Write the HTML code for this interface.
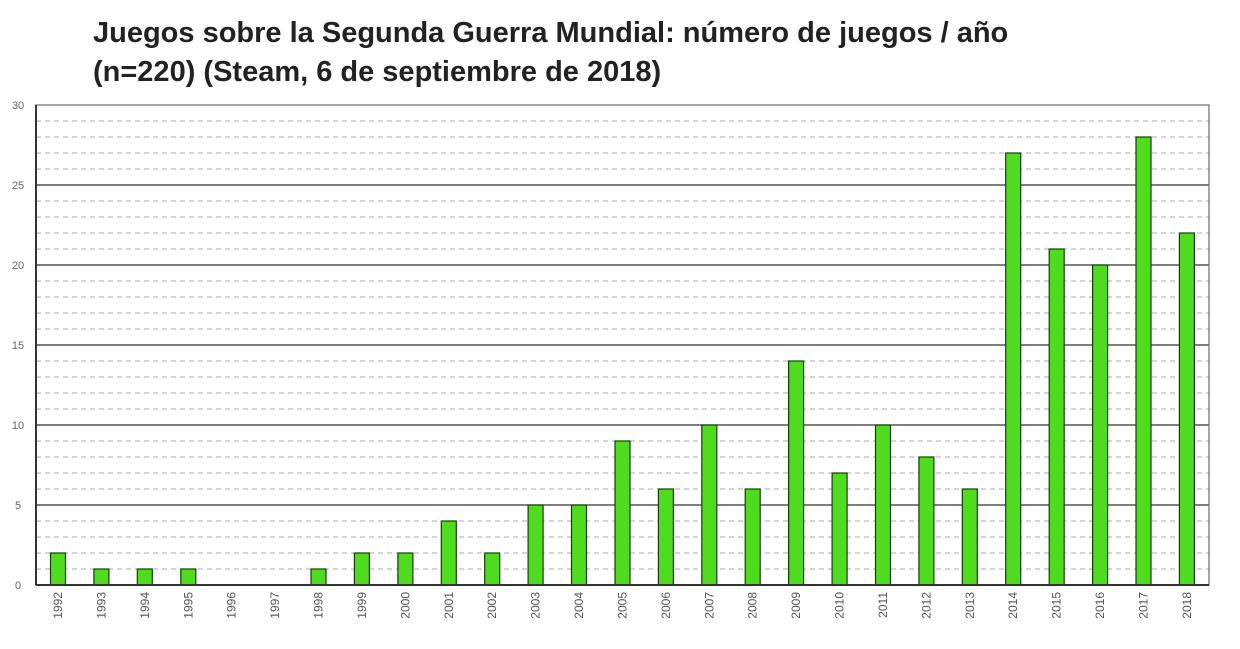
<!DOCTYPE html><html><head><meta charset="utf-8"><style>body{margin:0;background:#fff}</style></head><body>
<svg width="1240" height="644" xmlns="http://www.w3.org/2000/svg" font-family="Liberation Sans, sans-serif">
<text x="93" y="42" font-size="29" font-weight="bold" fill="#222">Juegos sobre la Segunda Guerra Mundial: número de juegos / año</text>
<text x="93" y="81" font-size="29" font-weight="bold" fill="#222">(n=220) (Steam, 6 de septiembre de 2018)</text>
<g stroke="#aaa" stroke-dasharray="5,4">
<line x1="36" x2="1209" y1="569" y2="569"/><line x1="36" x2="1209" y1="553" y2="553"/><line x1="36" x2="1209" y1="537" y2="537"/><line x1="36" x2="1209" y1="521" y2="521"/>
<line x1="36" x2="1209" y1="489" y2="489"/><line x1="36" x2="1209" y1="473" y2="473"/><line x1="36" x2="1209" y1="457" y2="457"/><line x1="36" x2="1209" y1="441" y2="441"/>
<line x1="36" x2="1209" y1="409" y2="409"/><line x1="36" x2="1209" y1="393" y2="393"/><line x1="36" x2="1209" y1="377" y2="377"/><line x1="36" x2="1209" y1="361" y2="361"/>
<line x1="36" x2="1209" y1="329" y2="329"/><line x1="36" x2="1209" y1="313" y2="313"/><line x1="36" x2="1209" y1="297" y2="297"/><line x1="36" x2="1209" y1="281" y2="281"/>
<line x1="36" x2="1209" y1="249" y2="249"/><line x1="36" x2="1209" y1="233" y2="233"/><line x1="36" x2="1209" y1="217" y2="217"/><line x1="36" x2="1209" y1="201" y2="201"/>
<line x1="36" x2="1209" y1="169" y2="169"/><line x1="36" x2="1209" y1="153" y2="153"/><line x1="36" x2="1209" y1="137" y2="137"/><line x1="36" x2="1209" y1="121" y2="121"/>
</g>
<g stroke="#333" stroke-width="1.3">
<line x1="36" x2="1209" y1="505" y2="505"/><line x1="36" x2="1209" y1="425" y2="425"/><line x1="36" x2="1209" y1="345" y2="345"/><line x1="36" x2="1209" y1="265" y2="265"/><line x1="36" x2="1209" y1="185" y2="185"/>
</g>
<g font-size="11" fill="#666" text-anchor="middle">
<text x="18" y="589">0</text><text x="18" y="509">5</text><text x="18" y="429">10</text><text x="18" y="349">15</text><text x="18" y="269">20</text><text x="18" y="189">25</text><text x="18" y="109">30</text>
</g>
<g fill="#4fdb1e" stroke="#1a3a10" stroke-width="1.2">
<rect x="50.5" y="553" width="15" height="32"/>
<rect x="93.9" y="569" width="15" height="16"/>
<rect x="137.3" y="569" width="15" height="16"/>
<rect x="180.8" y="569" width="15" height="16"/>
<rect x="311" y="569" width="15" height="16"/>
<rect x="354.4" y="553" width="15" height="32"/>
<rect x="397.9" y="553" width="15" height="32"/>
<rect x="441.3" y="521" width="15" height="64"/>
<rect x="484.7" y="553" width="15" height="32"/>
<rect x="528.1" y="505" width="15" height="80"/>
<rect x="571.5" y="505" width="15" height="80"/>
<rect x="615" y="441" width="15" height="144"/>
<rect x="658.4" y="489" width="15" height="96"/>
<rect x="701.8" y="425" width="15" height="160"/>
<rect x="745.2" y="489" width="15" height="96"/>
<rect x="788.6" y="361" width="15" height="224"/>
<rect x="832.1" y="473" width="15" height="112"/>
<rect x="875.5" y="425" width="15" height="160"/>
<rect x="918.9" y="457" width="15" height="128"/>
<rect x="962.3" y="489" width="15" height="96"/>
<rect x="1005.7" y="153" width="15" height="432"/>
<rect x="1049.2" y="249" width="15" height="336"/>
<rect x="1092.6" y="265" width="15" height="320"/>
<rect x="1136" y="137" width="15" height="448"/>
<rect x="1179.4" y="233" width="15" height="352"/>
</g>
<g font-size="12" fill="#555" text-anchor="end">
<text transform="translate(62,592) rotate(-90)">1992</text>
<text transform="translate(105.4,592) rotate(-90)">1993</text>
<text transform="translate(148.8,592) rotate(-90)">1994</text>
<text transform="translate(192.3,592) rotate(-90)">1995</text>
<text transform="translate(235.7,592) rotate(-90)">1996</text>
<text transform="translate(279.1,592) rotate(-90)">1997</text>
<text transform="translate(322.5,592) rotate(-90)">1998</text>
<text transform="translate(365.9,592) rotate(-90)">1999</text>
<text transform="translate(409.4,592) rotate(-90)">2000</text>
<text transform="translate(452.8,592) rotate(-90)">2001</text>
<text transform="translate(496.2,592) rotate(-90)">2002</text>
<text transform="translate(539.6,592) rotate(-90)">2003</text>
<text transform="translate(583,592) rotate(-90)">2004</text>
<text transform="translate(626.5,592) rotate(-90)">2005</text>
<text transform="translate(669.9,592) rotate(-90)">2006</text>
<text transform="translate(713.3,592) rotate(-90)">2007</text>
<text transform="translate(756.7,592) rotate(-90)">2008</text>
<text transform="translate(800.1,592) rotate(-90)">2009</text>
<text transform="translate(843.6,592) rotate(-90)">2010</text>
<text transform="translate(887,592) rotate(-90)">2011</text>
<text transform="translate(930.4,592) rotate(-90)">2012</text>
<text transform="translate(973.8,592) rotate(-90)">2013</text>
<text transform="translate(1017.2,592) rotate(-90)">2014</text>
<text transform="translate(1060.7,592) rotate(-90)">2015</text>
<text transform="translate(1104.1,592) rotate(-90)">2016</text>
<text transform="translate(1147.5,592) rotate(-90)">2017</text>
<text transform="translate(1190.9,592) rotate(-90)">2018</text>
</g>
<rect x="36" y="105" width="1173" height="480" fill="none" stroke="#777" stroke-width="1.3"/>
<line x1="36" x2="1209" y1="585" y2="585" stroke="#333" stroke-width="2"/>
<line x1="36" x2="36" y1="105" y2="585" stroke="#333" stroke-width="2"/>
</svg></body></html>
